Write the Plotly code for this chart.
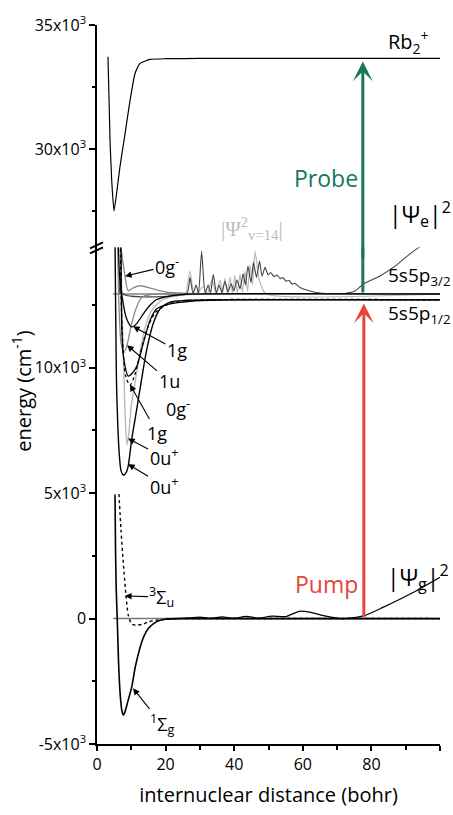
import plotly.graph_objects as go

# ---------------- tick data ----------------
x_tickvals = [0, 20, 40, 60, 80, 100]
x_minor = [10, 30, 50, 70, 90]
y_low_tickvals = [-5000, 0, 5000, 10000]
y_low_ticktext = ["-5x10<sup>3</sup>", "0", "5x10<sup>3</sup>", "10x10<sup>3</sup>"]
y_low_minor = [-2500, 2500, 7500, 12500]
y_up_tickvals = [30000, 35000]
y_up_ticktext = ["30x10<sup>3</sup>", "35x10<sup>3</sup>"]
y_up_minor = [27500, 32500]

# ---------------- asymptotes ----------------
E_p12 = 12706   # 5s5p1/2
E_p32 = 12940   # 5s5p3/2

# ---------------- ground states ----------------
sg_x = [5.25, 5.4, 5.6, 5.9, 6.3, 6.8, 7.3, 7.7, 8.2, 9.0, 10.1, 11.2, 12.5, 13.7, 15, 16.5, 18.4, 21, 25, 100]
sg_E = [4950, 2800, 1200, 0, -1800, -3100, -3700, -3850, -3700, -3300, -2745, -1900, -1180, -700, -390, -200, -70, -15, 0, 0]

su_x = [6.4, 7.0, 7.67, 8.45, 9.13, 10.1, 11.6, 13.5, 15, 17.4, 22, 28, 100]
su_E = [4970, 3530, 2220, 915, 130, -215, -263, -220, -130, -65, -10, 0, 0]

zero_x = [4.75, 100]
zero_E = [0, 0]

psig_x = [20, 24, 27, 30, 33, 36.5, 40, 43.5, 47, 51, 55, 59, 62, 66, 70, 72, 77.6, 83.5, 91.3, 100]
psig_E = [0, 5, 30, 60, 10, 70, 15, 90, 20, 100, 80, 290, 260, 120, 20, 0, 105, 457, 980, 1650]

# ---------------- excited states ----------------
c1_x = [5.25, 5.5, 5.73, 6.5, 7.0, 7.67, 8.4, 9.1, 10.1, 11.6, 13.0, 14.5, 16.4, 18.4, 21.3, 26.1, 35, 100]
c1_E = [15000, 11500, 9150, 6540, 5900, 5725, 5800, 6080, 7130, 8360, 9540, 10720, 11760, 12350, 12615, 12690, 12706, 12706]

c2_x = [6.9, 7.4, 8.0, 8.4, 8.8, 9.3, 10.0, 11.1, 12.5, 14.0, 16.0, 19.0, 23.0, 28.0, 100]
c2_E = [15000, 11800, 9000, 7500, 6930, 7400, 8500, 9410, 10600, 11600, 12300, 12700, 12870, 12930, 12940]

c3_x = [6.8, 7.0, 7.5, 8.3, 9.6, 11.0, 12.5, 14.5, 17.0, 21.0, 27.0, 100]
c3_E = [15000, 13000, 11000, 9700, 9300, 9700, 10500, 11500, 12200, 12550, 12680, 12706]

c4_x = [7.0, 7.2, 7.7, 9.1, 10.4, 11.66, 13.5, 15.5, 17.4, 21.3, 27.1, 35, 100]
c4_E = [15000, 11760, 10460, 9670, 9800, 10080, 10980, 11900, 12350, 12550, 12650, 12700, 12706]

c5_x = [6.0, 6.4, 7.0, 7.8, 8.75, 10.0, 11.5, 13.0, 16.0, 22.0, 100]
c5_E = [15000, 12500, 11000, 10600, 10900, 11700, 12400, 12800, 12930, 12940, 12940]

c6_x = [6.2, 6.6, 7.2, 8.5, 10.1, 11.5, 13.5, 15.5, 17.4, 20.0, 22.2, 26.0, 100]
c6_E = [15000, 13600, 12940, 12000, 11630, 11750, 12150, 12500, 12720, 12830, 12880, 12930, 12940]

c7_x = [6.6, 7.2, 7.8, 8.16, 9.1, 10.5, 12.5, 16.4, 20.3, 24.2, 30, 100]
c7_E = [15000, 14500, 14000, 13650, 13070, 13180, 13270, 13140, 13010, 12980, 12945, 12940]

asym_x = [4.7, 100]
asym_E = [E_p32, E_p32]

# |Psi_e|^2 (dark grey)
psie_x = [6.5, 6.8, 7.0, 7.25, 7.6, 26.2, 27.1, 28.0, 28.9, 29.6, 30.5, 31.5, 32.4, 33.1, 33.9, 34.8, 35.6,
          36.4, 37.3, 38.2, 39.1, 39.9, 40.8, 41.7, 42.6, 43.3, 44.0, 44.9, 45.6, 46.5, 47.4, 48.1,
          49.0, 49.9, 50.6, 51.6, 52.5, 53.4, 54.2, 55.1, 56.0, 56.9, 57.7, 59.2, 62.1, 65.0, 67.9,
          70.0, 72.3, 75.2, 77.6, 82.5, 86.9, 91.6, 96.0, 100]
psie_E = [12940, 13800, 12960, 14570, 12940, 12960, 13600, 12940, 13300, 12960, 14640, 12960, 13300, 12980, 13720,
          12980, 13300, 13000, 13450, 13020, 13350, 13060, 13500, 13150, 13750, 13300, 14050, 13400, 14200,
          13600, 14250, 13650, 14000, 13700, 13800, 13640, 13700, 13560, 13600, 13450, 13480, 13330, 13360,
          13200, 13060, 12980, 12950, 12940, 12960, 13060, 13330, 13660, 14050, 14580, 15000, 15400]

# |Psi_v=14|^2 (light grey)
psiv_x = [26.0, 27.1, 28.3, 29.5, 30.9, 32.2, 33.5, 34.7, 35.9, 36.6, 37.3, 38.0, 38.8, 39.5, 40.2, 40.9,
          41.7, 42.4, 43.1, 43.9, 44.6, 45.3, 46.1, 47.3, 49.3, 100]
psiv_E = [12940, 13850, 12940, 13000, 13250, 12950, 13500, 12950, 13500, 12960, 13560, 12960, 13600, 12970,
          13680, 12980, 13730, 13000, 13860, 13050, 14100, 13300, 14640, 13500, 12940, 12940]

# ---------------- ion ----------------
ion_x = [3.2, 3.8, 4.28, 4.96, 5.73, 6.7, 8.16, 9.6, 11.1, 12.5, 15.5, 20, 30, 100]
ion_E = [33720, 30350, 28760, 27500, 28226, 29290, 30600, 31930, 33055, 33450, 33610, 33640, 33650, 33650]

# ---------------- transitions ----------------
pump_x, pump_from, pump_to = 77.8, 0, 12560
probe_x, probe_from, probe_to = 77.5, 13000, 33530

GREEN = "#17775a"
RED = "#e5453b"
FONT = "Open Sans"

# ---------------- layout geometry ----------------
y_low_range = [-5000, 17235]
y_low_domain = [0, 0.7757]
y_up_range = [26032, 35000]
y_up_domain = [0.6908, 1]

fig = go.Figure()

def line(x, y, color="black", width=1.3, dash="solid", yaxis="y", shape="spline", smooth=0.7):
    fig.add_trace(go.Scatter(x=x, y=y, mode="lines", yaxis=yaxis, hoverinfo="skip",
                             line=dict(color=color, width=width, dash=dash, shape=shape,
                                       smoothing=smooth if shape == "spline" else None)))

# ground
line(zero_x, zero_E, color="#777777", width=1.5, shape="linear")
line(psig_x, psig_E, color="black", width=1.2)
line(sg_x, sg_E, color="black", width=1.6)
line(su_x, su_E, color="black", width=1.4, dash="dot")

# excited
line(asym_x, asym_E, color="#444444", width=1.0, shape="linear")
line(psiv_x, psiv_E, color="#bbbbbb", width=1.2, smooth=0.5)
line(psie_x, psie_E, color="#444444", width=1.1, smooth=0.5)
line(c2_x, c2_E, color="#bbbbbb", width=1.4)
line(c5_x, c5_E, color="#888888", width=1.3)
line(c7_x, c7_E, color="#888888", width=1.3)
line(c3_x, c3_E, color="black", width=1.3, dash="dot")
line(c4_x, c4_E, color="black", width=1.3)
line(c6_x, c6_E, color="black", width=1.3)
line(c1_x, c1_E, color="black", width=1.4)

# ion
line(ion_x, ion_E, color="black", width=1.2, yaxis="y2", smooth=0.45)

# probe lower stem
line([probe_x, probe_x], [probe_from, y_low_range[1]], color=GREEN, width=3, shape="linear")

ann = []
# pump arrow
ann.append(dict(x=pump_x, y=pump_to, ax=pump_x, ay=pump_from, xref="x", yref="y", axref="x", ayref="y",
                text="", showarrow=True, arrowhead=3, arrowsize=1.1, arrowwidth=3, arrowcolor=RED,
                standoff=0, startstandoff=0))
# probe arrow (upper part)
ann.append(dict(x=probe_x, y=probe_to, ax=probe_x, ay=y_up_range[0] - 500, xref="x", yref="y2", axref="x", ayref="y2",
                text="", showarrow=True, arrowhead=3, arrowsize=1.1, arrowwidth=3, arrowcolor=GREEN,
                standoff=0, startstandoff=0))

# state labels with arrows: text, tip x, tip E, offset px
state_labels = [
    ("0g<sup>-</sup>", 8.16, 13650, 42, -10),
    ("1g", 10.5, 11650, 44, 24),
    ("1u", 8.75, 10900, 42, 36),
    ("0g<sup>-</sup>", 11.66, 10080, 41, 42),
    ("1g", 9.62, 9330, 27, 48),
    ("0u<sup>+</sup>", 9.04, 7180, 36, 19),
    ("0u<sup>+</sup>", 9.04, 6160, 36, 22),
    ("<sup>3</sup>Σ<sub>u</sub>", 8.16, 900, 37, 1),
    ("<sup>1</sup>Σ<sub>g</sub>", 10.5, -2780, 29, 36),
]
for t, xx, yy, dx, dy in state_labels:
    ann.append(dict(x=xx, y=yy, xref="x", yref="y", text=t, showarrow=True, ax=dx, ay=dy,
                    arrowhead=2, arrowsize=1.2, arrowwidth=1.1, arrowcolor="black",
                    font=dict(size=18, family=FONT, color="black"), standoff=0))

# plain text labels
ann += [
    dict(x=90.7, y=34300, xref="x", yref="y2", text="Rb<sub>2</sub><sup>+</sup>", showarrow=False,
         font=dict(size=20, family=FONT)),
    dict(x=66.8, y=28810, xref="x", yref="y2", text="Probe", showarrow=False,
         font=dict(size=23, family=FONT, color=GREEN)),
    dict(x=66.8, y=1370, xref="x", yref="y", text="Pump", showarrow=False,
         font=dict(size=23, family=FONT, color=RED)),
    dict(x=94.2, y=27380, xref="x", yref="y2", text="|Ψ<sub>e</sub>|<sup>2</sup>", showarrow=False,
         font=dict(size=23, family=FONT)),
    dict(x=93.6, y=1650, xref="x", yref="y", text="|Ψ<sub>g</sub>|<sup>2</sup>", showarrow=False,
         font=dict(size=23, family=FONT)),
    dict(x=94.0, y=13650, xref="x", yref="y", text="5s5p<sub>3/2</sub>", showarrow=False,
         font=dict(size=19, family=FONT)),
    dict(x=94.0, y=12160, xref="x", yref="y", text="5s5p<sub>1/2</sub>", showarrow=False,
         font=dict(size=19, family=FONT)),
    dict(x=45.2, y=15570, xref="x", yref="y", text="|Ψ<sup>2</sup><sub>v=14</sub>|", showarrow=False,
         font=dict(size=21, family="Liberation Serif", color="#bbbbbb")),
    dict(x=0, y=0.49, xref="paper", yref="paper", xshift=-75, xanchor="center", yanchor="middle",
         text="energy (cm<sup>-1</sup>)", textangle=-90, showarrow=False, font=dict(size=20, family=FONT)),
]

axis_common = dict(showline=True, linecolor="black", linewidth=1.5, ticks="outside", tickwidth=1.5,
                   tickcolor="black", showgrid=False, zeroline=False, tickfont=dict(size=16, family=FONT))

fig.update_layout(
    width=453, height=815, margin=dict(l=97, r=13, t=16, b=68),
    paper_bgcolor="white", plot_bgcolor="white", showlegend=False,
    font=dict(family=FONT, color="black"),
    xaxis=dict(range=[0, 100], tickmode="array", tickvals=x_tickvals, ticklen=5,
               minor=dict(tickmode="array", tickvals=x_minor, ticks="outside", ticklen=4, tickwidth=1.5, tickcolor="black"),
               title=dict(text="internuclear distance (bohr)", font=dict(size=20, family=FONT), standoff=14),
               **axis_common),
    yaxis=dict(range=y_low_range, domain=y_low_domain, tickmode="array", tickvals=y_low_tickvals,
               ticktext=y_low_ticktext, ticklen=6,
               minor=dict(tickmode="array", tickvals=y_low_minor, ticks="outside", ticklen=3, tickwidth=1.5, tickcolor="black"),
               **axis_common),
    yaxis2=dict(range=y_up_range, domain=y_up_domain, anchor="x", tickmode="array", tickvals=y_up_tickvals,
                ticktext=y_up_ticktext, ticklen=6,
                minor=dict(tickmode="array", tickvals=y_up_minor, ticks="outside", ticklen=3, tickwidth=1.5, tickcolor="black"),
                **axis_common),
    annotations=ann,
    shapes=[
        dict(type="line", xref="paper", yref="paper", xsizemode="pixel", ysizemode="pixel",
             xanchor=0, yanchor=y_up_domain[0], x0=-7, x1=6, y0=-6, y1=0, line=dict(color="black", width=2)),
        dict(type="line", xref="paper", yref="paper", xsizemode="pixel", ysizemode="pixel",
             xanchor=0, yanchor=y_up_domain[0], x0=-7, x1=6, y0=-1, y1=5, line=dict(color="black", width=2)),
    ],
)

fig.write_html("out.html")
